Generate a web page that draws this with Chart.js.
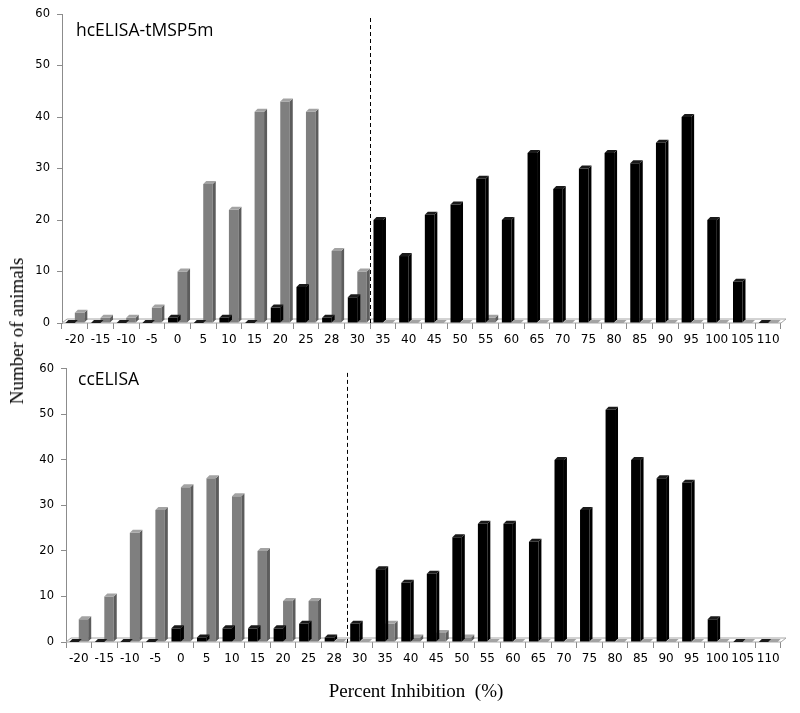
<!DOCTYPE html>
<html>
<head>
<meta charset="utf-8">
<script src="https://cdn.jsdelivr.net/npm/chart.js@4.4.1/dist/chart.umd.min.js"></script>
<style>
  body { margin: 0; background: #fff; }
  #wrap { position: relative; width: 800px; height: 713px; overflow: hidden; }
  #topChart { position: absolute; left: 0; top: 0; }
  #bottomChart { position: absolute; left: 0; top: 355px; }
  .panel-label { position: absolute; font-family: "Open Sans", "Liberation Sans", sans-serif; font-size: 17.5px; color: #000; white-space: nowrap; }
  .axis-title { position: absolute; font-family: "Liberation Serif", "DejaVu Serif", serif; font-size: 19px; color: #000; white-space: nowrap; }
</style>
</head>
<body>
<div id="wrap">
  <canvas id="topChart" width="800" height="355"></canvas>
  <canvas id="bottomChart" width="800" height="358"></canvas>
  <div class="panel-label" style="left:76px;top:17px;">hcELISA-tMSP5m</div>
  <div class="panel-label" style="left:78px;top:366px;">ccELISA</div>
  <div class="axis-title" style="left:17px;top:331px;transform:translate(-50%,-50%) rotate(-90deg);">Number of animals</div>
  <div class="axis-title" style="left:416px;top:691px;transform:translate(-50%,-50%);font-size:19px;">Percent Inhibition&nbsp; (%)</div>
</div>
<script>
(function() {
  var categories = ['-20', '-15', '-10', '-5', '0', '5', '10', '15', '20', '25', '28', '30', '35', '40',
    '45', '50', '55', '60', '65', '70', '75', '80', '85', '90', '95', '100', '105', '110'];

  // hcELISA-tMSP5m panel
  var hcNegative = [2, 1, 1, 3, 10, 27, 22, 41, 43, 41, 14, 10, 0, 0, 0, 0, 1, 0, 0, 0, 0, 0, 0, 0, 0, 0, 0, 0];
  var hcPositive = [0, 0, 0, 0, 1, 0, 1, 0, 3, 7, 1, 5, 20, 13, 21, 23, 28, 20, 33, 26, 30, 33, 31, 35, 40, 20, 8, 0];
  var hcCutoff = 11.5; // between 30 and 35

  // ccELISA panel
  var ccNegative = [5, 10, 24, 29, 34, 36, 32, 20, 9, 9, 0, 0, 4, 1, 2, 1, 0, 0, 0, 0, 0, 0, 0, 0, 0, 0, 0, 0];
  var ccPositive = [0, 0, 0, 0, 3, 1, 3, 3, 3, 4, 1, 4, 16, 13, 15, 23, 26, 26, 22, 40, 29, 51, 40, 36, 35, 5, 0, 0];
  var ccCutoff = 10.5; // between 28 and 30

  var yMax = 60;
  var yStep = 10;

  var dx = 3, dy = 3;

  function poly(ctx, pts, fill, stroke) {
    ctx.beginPath();
    ctx.moveTo(pts[0][0], pts[0][1]);
    for (var i = 1; i < pts.length; i++) ctx.lineTo(pts[i][0], pts[i][1]);
    ctx.closePath();
    if (fill) { ctx.fillStyle = fill; ctx.fill(); }
    if (stroke) { ctx.strokeStyle = stroke; ctx.lineWidth = 1; ctx.stroke(); }
  }

  var bar3d = {
    id: 'bar3d',
    beforeDatasetsDraw: function(chart) {
      var ctx = chart.ctx, area = chart.chartArea;
      var base = chart.scales.y.getPixelForValue(0);
      ctx.save();
      poly(ctx, [[area.left, base], [area.left + dx + 2, base - dy - 1], [area.right + dx + 2, base - dy - 1], [area.right, base]], '#fff', '#a6a6a6');
      ctx.restore();
    },
    afterDatasetDraw: function(chart, args) {
      var ctx = chart.ctx;
      var ds = chart.data.datasets[args.index];
      ctx.save();
      args.meta.data.forEach(function(bar) {
        var p = bar.getProps(['x', 'y', 'base', 'width'], true);
        var l = p.x - p.width / 2, r = p.x + p.width / 2;
        poly(ctx, [[r, p.y], [r + dx, p.y - dy], [r + dx, p.base - dy], [r, p.base]], ds.sideColor);
        poly(ctx, [[l, p.y], [l + dx, p.y - dy], [r + dx, p.y - dy], [r, p.y]], ds.topColor);
      });
      ctx.restore();
    },
    afterDraw: function(chart) {
      var cut = chart.options.plugins.bar3d.cutoff;
      var x = chart.scales.x;
      var px = (x.getPixelForValue(Math.floor(cut)) + x.getPixelForValue(Math.ceil(cut))) / 2;
      var ctx = chart.ctx, area = chart.chartArea;
      ctx.save();
      ctx.strokeStyle = '#000';
      ctx.lineWidth = 1;
      ctx.setLineDash([4, 3]);
      ctx.beginPath();
      ctx.moveTo(Math.round(px) + 0.5, area.top + 4);
      ctx.lineTo(Math.round(px) + 0.5, area.bottom + 2);
      ctx.stroke();
      ctx.restore();
    }
  };

  function makeChart(id, negative, positive, cutoff, yWidth, xHeight, topPad) {
    return new Chart(document.getElementById(id).getContext('2d'), {
      type: 'bar',
      data: {
        labels: categories,
        datasets: [{
          data: negative,
          backgroundColor: '#7f7f7f',
          sideColor: '#5c5c5c',
          topColor: '#a3a3a3',
          order: 2
        }, {
          data: positive,
          backgroundColor: '#000',
          sideColor: '#000',
          topColor: '#1a1a1a',
          order: 1
        }]
      },
      options: {
        responsive: false,
        animation: false,
        layout: { padding: { top: topPad, right: 19, left: 0, bottom: 0 } },
        datasets: { bar: { barPercentage: 1, categoryPercentage: 0.74 } },
        plugins: {
          legend: { display: false },
          tooltip: { enabled: false },
          bar3d: { cutoff: cutoff }
        },
        scales: {
          x: {
            afterFit: function(s) { s.height = xHeight; },
            grid: { drawOnChartArea: false, drawTicks: true, tickLength: 6, color: '#8c8c8c' },
            border: { display: false },
            ticks: { color: '#000', font: { family: 'DejaVu Sans', size: 12 }, padding: 4, maxRotation: 0, autoSkip: false }
          },
          y: {
            min: 0,
            max: yMax,
            afterFit: function(s) { s.width = yWidth; },
            grid: { drawOnChartArea: false, drawTicks: true, tickLength: 5, color: '#8c8c8c' },
            border: { color: '#8c8c8c' },
            ticks: { stepSize: yStep, color: '#000', font: { family: 'DejaVu Sans', size: 11.5 }, padding: 7 }
          }
        }
      },
      plugins: [bar3d]
    });
  }

  document.addEventListener('DOMContentLoaded', function() {
    makeChart('topChart', hcNegative, hcPositive, hcCutoff, 62, 32, 14);
    makeChart('bottomChart', ccNegative, ccPositive, ccCutoff, 66, 71, 13);
  });
})();
</script>
</body>
</html>
